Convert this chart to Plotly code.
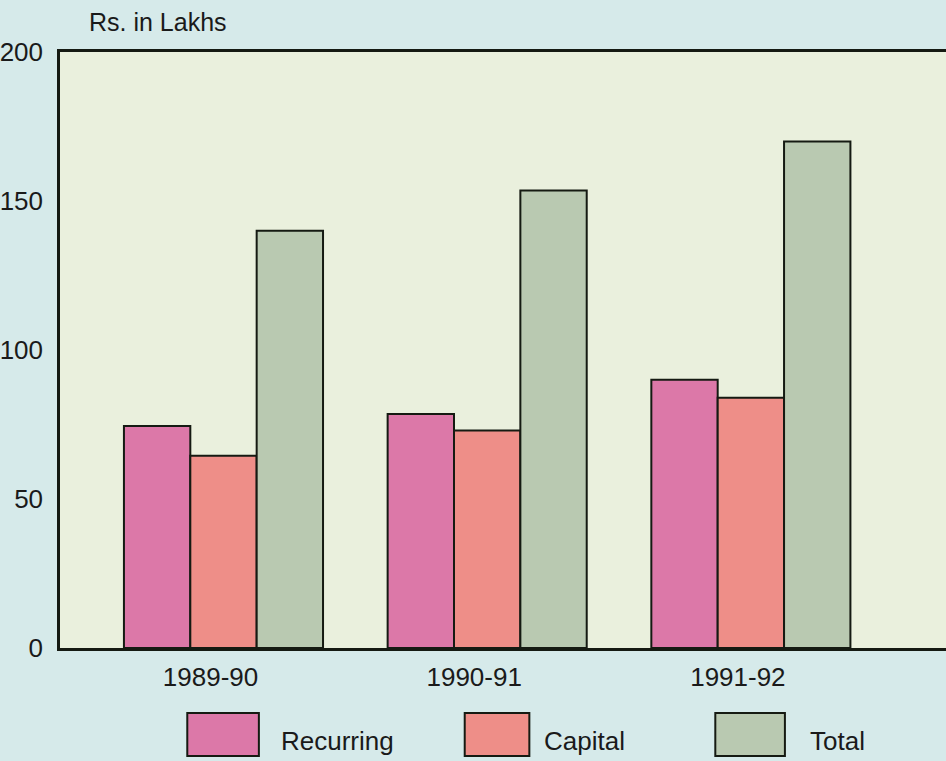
import plotly.graph_objects as go

categories = ["1989-90", "1990-91", "1991-92"]
series_names = ["Recurring", "Capital", "Total"]
recurring = [74.5, 78.5, 90]
capital = [64.5, 73, 84]
total = [140, 153.5, 170]
y_ticks = [0, 50, 100, 150, 200]
y_title = "Rs. in Lakhs"

colors = ["#dc78a8", "#ee8e88", "#b9c9b1"]
values = [recurring, capital, total]

fig = go.Figure()
for name, vals, col in zip(series_names, values, colors):
    fig.add_trace(go.Bar(
        x=categories, y=vals, name=name,
        marker=dict(color=col, line=dict(color="#151a12", width=2)),
        showlegend=False,
    ))

W, H = 946, 761
L, R, T, B = 55, 0, 52, 113
pw, ph = W - L - R, H - T - B

def px_x(p):
    return (p - L) / pw

def px_y(p):
    return (H - B - p) / ph

shapes = []
annotations = []
legend_boxes = [(183, 255), (462, 527), (714, 784)]
legend_text_x = [275, 540, 807]
for (x0, x1), tx, name, col in zip(legend_boxes, legend_text_x, series_names, colors):
    shapes.append(dict(type="rect", xref="paper", yref="paper",
                       x0=px_x(x0), x1=px_x(x1), y0=px_y(756), y1=px_y(713),
                       fillcolor=col, line=dict(color="#151a12", width=2)))
    annotations.append(dict(text=name, xref="paper", yref="paper",
                            x=px_x(tx), y=px_y(741), xanchor="left", yanchor="middle",
                            showarrow=False, font=dict(size=26, color="#1a1a1a")))

annotations.append(dict(text=y_title, xref="paper", yref="paper",
                        x=px_x(82), y=px_y(22), xanchor="left", yanchor="middle",
                        showarrow=False, font=dict(size=25, color="#1a1a1a")))

fig.update_layout(
    width=W, height=H,
    margin=dict(l=L, r=R, t=T, b=B, pad=0),
    paper_bgcolor="#d6eaea",
    plot_bgcolor="#eaf0dd",
    font=dict(family="Liberation Sans, Arial, sans-serif", size=25, color="#1a1a1a"),
    barmode="group",
    bargap=0.245,
    bargroupgap=0,
    shapes=shapes,
    annotations=annotations,
    showlegend=False,
)
fig.update_xaxes(
    range=[-0.62, 2.74],
    showline=True, linecolor="#151a12", linewidth=2.5, mirror=True,
    showgrid=False, ticks="", ticklabelshift=-13, ticklabelstandoff=4,
    tickfont=dict(size=26),
)
fig.update_yaxes(
    range=[0, 200], tickvals=y_ticks,
    showline=True, linecolor="#151a12", linewidth=2.5, mirror=False,
    showgrid=False, zeroline=False, ticks="", ticklabelstandoff=9,
    tickfont=dict(size=26),
)

fig.write_html("out.html", config={"displayModeBar": False},
               post_script="document.body.style.margin='0';document.body.style.overflow='hidden';")
